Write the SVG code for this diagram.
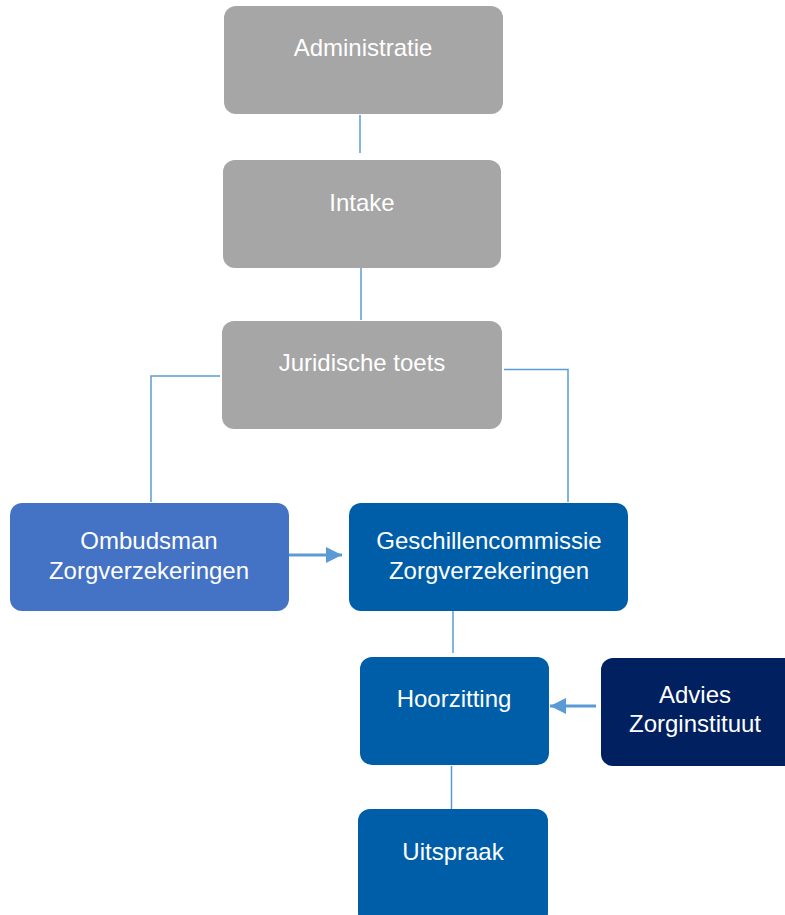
<svg xmlns="http://www.w3.org/2000/svg" width="785" height="915" viewBox="0 0 785 915">
<style>
.box{stroke:none}
.gray{fill:#A6A6A6}
.t{fill:#FFFFFF;font-family:"Liberation Sans",Arial,sans-serif;font-size:24px;text-anchor:middle}
.c{stroke:#5B9BD5;stroke-width:1.5;fill:none}
.a{stroke:#5B9BD5;stroke-width:3;fill:none}
</style>
<defs>
<marker id="ah" markerWidth="16" markerHeight="16" refX="16" refY="8" orient="auto" markerUnits="userSpaceOnUse">
<path d="M0,0 L16,8 L0,16 z" fill="#5B9BD5"/>
</marker>
</defs>
<rect width="785" height="915" fill="#FFFFFF"/>
<g id="connectors">
<line class="c" x1="360" y1="115" x2="360" y2="153"/>
<line class="c" x1="361" y1="268" x2="361" y2="320"/>
<polyline class="c" points="220,376 151,376 151,502"/>
<polyline class="c" points="504,369.5 568,369.5 568,502"/>
<line class="a" x1="289" y1="555" x2="342" y2="555" marker-end="url(#ah)"/>
<line class="c" x1="453" y1="611" x2="453" y2="653"/>
<line class="a" x1="596" y1="706" x2="550" y2="706" marker-end="url(#ah)"/>
<line class="c" x1="451.5" y1="766" x2="451.5" y2="809"/>
</g>
<g id="administratie">
<rect class="box gray" x="224" y="6" width="279" height="108" rx="12"/>
<text class="t" x="363" y="56">Administratie</text>
</g>
<g id="intake">
<rect class="box gray" x="223" y="160" width="278" height="108" rx="12"/>
<text class="t" x="362" y="211">Intake</text>
</g>
<g id="juridische">
<rect class="box gray" x="222" y="321" width="280" height="108" rx="12"/>
<text class="t" x="362" y="371">Juridische toets</text>
</g>
<g id="ombudsman">
<rect class="box" fill="#4472C4" x="10" y="503" width="279" height="108" rx="12"/>
<text class="t" x="149" y="549">Ombudsman</text>
<text class="t" x="149" y="579">Zorgverzekeringen</text>
</g>
<g id="geschillencommissie">
<rect class="box" fill="#005EA8" x="349" y="503" width="279" height="108" rx="12"/>
<text class="t" x="489" y="549">Geschillencommissie</text>
<text class="t" x="489" y="579">Zorgverzekeringen</text>
</g>
<g id="hoorzitting">
<rect class="box" fill="#005EA8" x="360" y="657" width="189" height="108" rx="12"/>
<text class="t" x="454" y="707">Hoorzitting</text>
</g>
<g id="advies">
<rect class="box" fill="#00205F" x="601" y="658" width="196" height="108" rx="12"/>
<text class="t" x="695" y="703">Advies</text>
<text class="t" x="695" y="732">Zorginstituut</text>
</g>
<g id="uitspraak">
<rect class="box" fill="#005EA8" x="358" y="809" width="190" height="116" rx="12"/>
<text class="t" x="453" y="860">Uitspraak</text>
</g>
</svg>
